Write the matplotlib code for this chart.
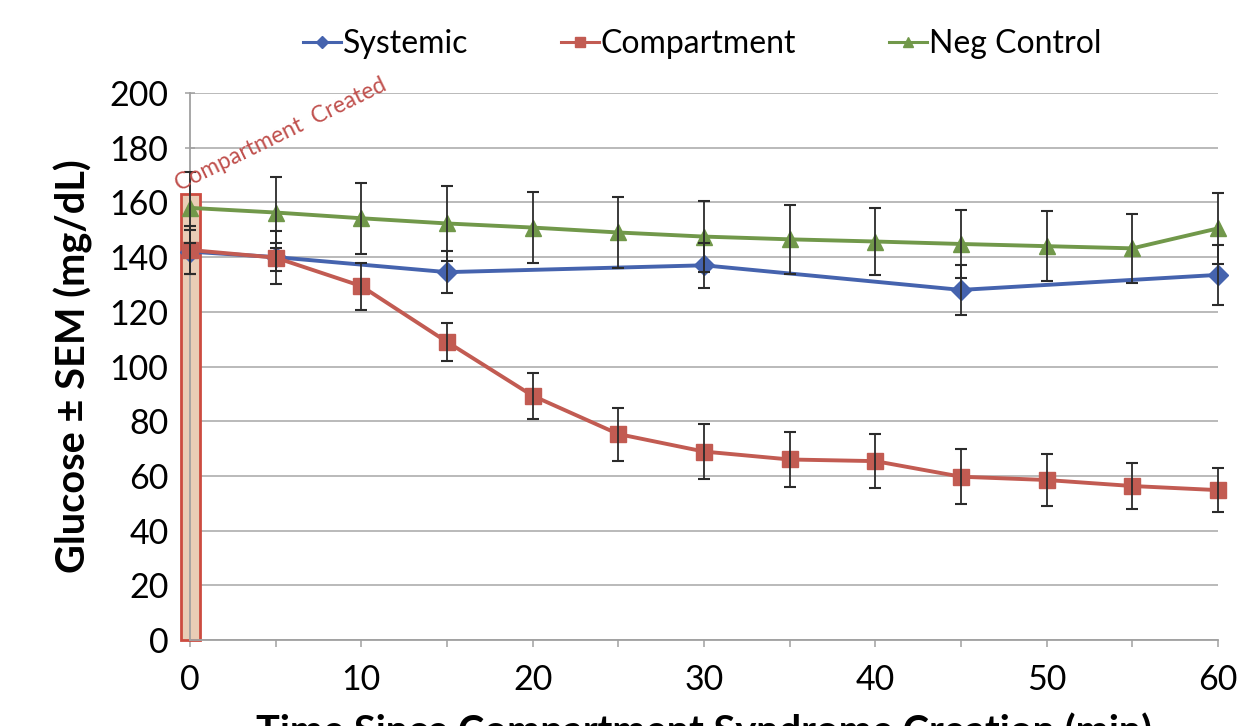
import matplotlib
matplotlib.use("Agg")
import matplotlib.pyplot as plt
from matplotlib.patches import Rectangle

# ---- data ----
sys_t = [0, 5, 15, 30, 45, 60]
sys_v = [142, 140, 134.5, 137, 128, 133.5]
sys_e = [8, 5, 7.7, 8.3, 9, 11]

comp_t = [0, 5, 10, 15, 20, 25, 30, 35, 40, 45, 50, 55, 60]
comp_v = [142.6, 139.8, 129.4, 109, 89.3, 75.3, 68.9, 66, 65.4, 59.7, 58.5, 56.3, 54.8]
comp_e = [8.6, 9.8, 8.6, 7, 8.5, 9.7, 10, 10, 10, 10, 9.5, 8.5, 8]

neg_t = [0, 5, 10, 15, 20, 25, 30, 35, 40, 45, 50, 55, 60]
neg_v = [158, 156.3, 154.2, 152.3, 150.8, 149, 147.5, 146.5, 145.7, 144.8, 144, 143.2, 150.5]
neg_e = [13, 13, 13, 13.7, 13, 13, 13, 12.5, 12.4, 12.5, 12.8, 12.5, 13]

series_names = ["Systemic", "Compartment", "Neg Control"]
x_ticks = [0, 10, 20, 30, 40, 50, 60]
y_ticks = [0, 20, 40, 60, 80, 100, 120, 140, 160, 180, 200]
marker_span = (0, 163)  # "Compartment Created" marker: time 0, height 163

FONT = "Lato"
plt.rcParams["font.family"] = [FONT, "DejaVu Sans"]

fig = plt.figure(figsize=(12.49, 7.26), dpi=100)
ax = fig.add_axes([190/1249, 1-640/726, (1218-190)/1249, (640-93)/726])

c_blue = "#4563ae"
c_red = "#c25b52"
c_green = "#71984a"
c_err = "#2b2b2b"

ax.set_xlim(0, 60)
ax.set_ylim(0, 200)
ax.set_yticks(y_ticks)
ax.set_xticks(x_ticks)
ax.set_xticks(list(range(0, 61, 5)), minor=True)
ax.yaxis.grid(True, color="#b4b4b4", linewidth=1.3)
ax.set_axisbelow(True)
for s in ["top", "right"]:
    ax.spines[s].set_visible(False)
for s in ["left", "bottom"]:
    ax.spines[s].set_color("#a0a0a0")
    ax.spines[s].set_linewidth(1.3)
ax.tick_params(axis="y", direction="inout", length=7, width=1.1, color="#a0a0a0",
               labelsize=24.5, pad=12)
ax.tick_params(axis="x", which="both", direction="out", length=5, width=1.1,
               color="#a0a0a0", labelsize=24.5, pad=12)

# compartment-created marker rectangle
rect = Rectangle((-0.5, marker_span[0]), 1.1, marker_span[1], facecolor="#e9cdb6",
                 edgecolor="#cc4b40", linewidth=2, zorder=1.5, clip_on=False)
ax.add_patch(rect)
ax.text(-0.65, 164, "Compartment  Created", rotation=26, rotation_mode="anchor",
        ha="left", va="baseline", color="#c0504d", fontsize=16.5, zorder=4)

def draw(t, v, e, color, marker, ms, label, z):
    ax.errorbar(t, v, yerr=e, fmt="none", ecolor=c_err, elinewidth=1.3,
                capsize=4, capthick=1.5, zorder=z + 0.5, clip_on=False)
    ax.plot(t, v, color=color, linewidth=2.8, marker=marker, markersize=ms,
            markerfacecolor=color, markeredgecolor=color, label=label,
            zorder=z, clip_on=False)

draw(sys_t, sys_v, sys_e, c_blue, "D", 10, series_names[0], 3)
draw(comp_t, comp_v, comp_e, c_red, "s", 11, series_names[1], 3.2)
draw(neg_t, neg_v, neg_e, c_green, "^", 11, series_names[2], 3.4)

ax.set_ylabel("Glucose ± SEM (mg/dL)", fontsize=28.5, fontweight="bold", labelpad=12)
ax.set_xlabel("Time Since Compartment Syndrome Creation (min)", fontsize=28.5,
              fontweight="bold", labelpad=12)

leg = fig.legend(loc="upper center", bbox_to_anchor=(0.562, 1.0), ncol=3,
                 frameon=False, fontsize=23, handlelength=1.2, handletextpad=0.05,
                 columnspacing=2.9, markerscale=0.6)
for h in leg.legend_handles:
    h.set_linewidth(2.2)

fig.savefig("out.png", dpi=100)
